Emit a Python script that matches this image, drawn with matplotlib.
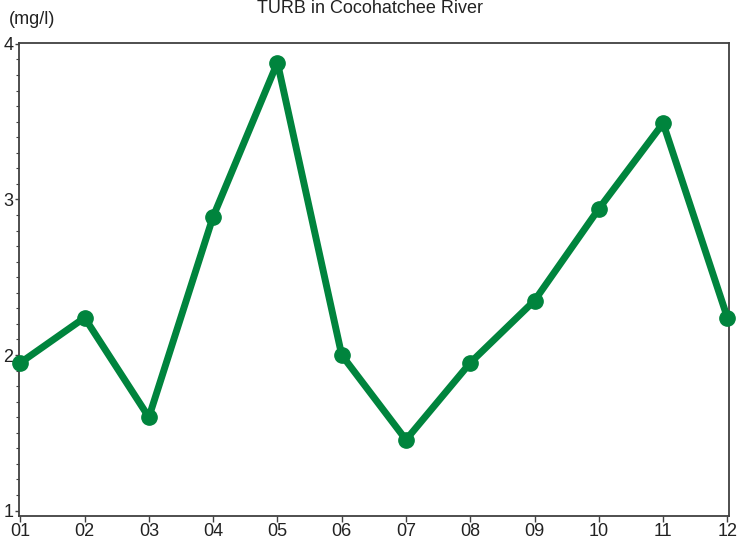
import matplotlib
matplotlib.use("Agg")
import matplotlib.pyplot as plt
from matplotlib.ticker import MultipleLocator

months = ["01", "02", "03", "04", "05", "06", "07", "08", "09", "10", "11", "12"]
turb = [1.95, 2.24, 1.60, 2.89, 3.88, 2.00, 1.455, 1.95, 2.35, 2.94, 3.49, 2.24]
yticks = [1, 2, 3, 4]

plt.rcParams['font.family'] = ['Liberation Sans', 'DejaVu Sans']
fig = plt.figure(figsize=(7.4, 5.4), dpi=100)
ax = fig.add_axes([0.0257, 0.045, 0.959, 0.8754])

x = list(range(1, len(months) + 1))
ax.plot(x, turb, color="#00843D", lw=5, marker="o", markersize=11,
        solid_joinstyle="round", clip_on=False, zorder=3)

ax.set_xlim(0.98, 12.02)
ax.set_ylim(0.967, 4.006)
ax.set_xticks(x)
ax.set_xticklabels(months)
ax.set_yticks(yticks)
ax.set_yticklabels([str(v) for v in yticks])
ax.yaxis.set_minor_locator(MultipleLocator(0.1))

for s in ax.spines.values():
    s.set_color("#404040")
    s.set_linewidth(1.3)

ax.tick_params(axis="x", direction="out", length=4, width=1, color="#404040",
               labelsize=13, pad=1, labelcolor="#222222")
ax.tick_params(axis="y", which="major", direction="out", length=3, width=1,
               color="#404040", labelsize=13, pad=1, labelcolor="#222222")
ax.tick_params(axis="y", which="minor", direction="out", length=2, width=0.8,
               color="#404040")

fig.text(0.5, 0.985, "TURB in Cocohatchee River", ha="center", va="center",
         fontsize=13, color="#222222")
fig.text(0.012, 0.963, "(mg/l)", ha="left", va="center", fontsize=13,
         color="#222222")

fig.savefig("out.png", dpi=100)
